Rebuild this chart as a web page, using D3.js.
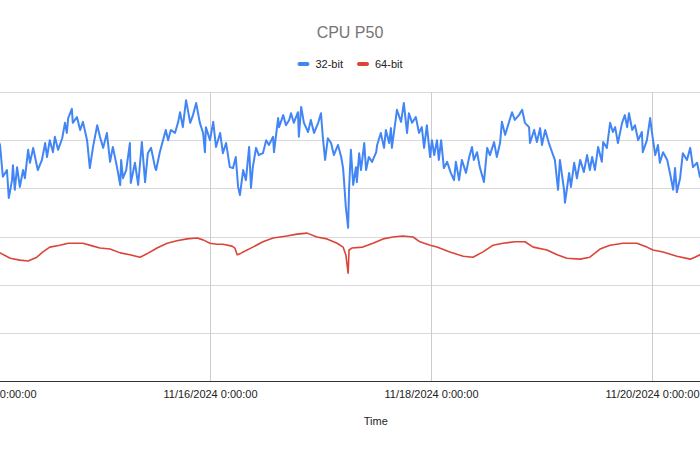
<!DOCTYPE html>
<html>
<head>
<meta charset="utf-8">
<script src="https://cdn.jsdelivr.net/npm/d3@7"></script>
<style>
  html, body { margin: 0; padding: 0; background: #fff; }
  svg { display: block; font-family: "Liberation Sans", Arial, sans-serif; }
</style>
</head>
<body>
<svg id="chart" width="700" height="450"></svg>
<script>
// ---------- DATA ----------
const chartTitle = "CPU P50";
const xAxisTitle = "Time";
const seriesNames = ["32-bit", "64-bit"];
const seriesColors = ["#4285F4", "#DB4437"];

// hours after 11/14/2024 0:00:00 (UTC)
const blueHours = [2.0,2.4,3.0,3.9,4.3,5.0,5.2,5.6,6.1,6.7,7.4,7.8,8.5,8.9,9.6,10.0,10.6,11.5,12.2,12.6,13.2,13.9,14.3,15.0,15.9,16.5,16.9,17.2,18.0,18.2,19.1,19.8,20.4,21.3,21.9,22.6,23.5,24.1,24.8,25.6,26.3,26.9,27.8,28.5,28.7,29.1,29.8,30.6,30.8,31.7,32.4,33.2,33.9,34.5,35.2,36.1,36.3,37.1,37.8,38.4,38.9,39.5,40.4,41.1,41.5,42.1,42.8,43.7,44.3,45.0,45.8,46.5,46.9,47.1,48.0,48.7,49.3,50.2,50.8,51.5,52.3,53.0,53.6,54.1,54.5,55.2,55.8,56.5,56.9,57.3,58.0,58.6,59.5,60.2,60.8,61.7,61.9,62.8,63.0,63.9,64.5,65.2,65.6,66.2,67.1,67.3,67.8,68.4,69.3,69.9,70.6,71.5,72.1,72.5,73.0,73.6,74.3,74.9,75.8,76.5,76.9,77.1,77.5,78.0,78.2,78.6,79.1,79.7,79.9,80.4,80.8,81.5,81.9,82.5,83.2,84.1,84.3,85.1,85.8,86.2,86.9,87.3,87.5,88.4,88.6,89.5,90.1,90.8,91.2,91.9,92.7,93.4,94.0,94.5,95.1,95.8,96.2,96.7,97.3,97.7,98.2,98.8,99.5,100.3,101.0,101.4,102.1,102.7,103.6,104.3,104.9,105.3,106.0,106.6,107.5,108.2,108.8,109.7,110.3,111.0,111.4,112.1,112.9,113.6,114.2,115.1,115.8,116.4,117.3,117.5,118.4,119.0,119.7,120.1,120.8,121.6,122.3,122.9,123.6,124.0,124.9,125.1,126.0,126.4,127.1,127.7,128.4,129.2,129.9,130.5,131.0,131.6,132.3,133.1,133.4,134.2,134.9,135.5,136.0,136.6,137.5,138.1,138.6,139.0,139.7,140.3,141.0,141.8,142.0,142.9,143.6,144.0,144.7,145.3,145.7,146.4,147.3,147.9,148.6,149.0,149.4,150.1,150.7,151.6,152.3,152.9,153.8,154.4,155.3];
const blueValues = [50.0,49.0,42.4,43.8,38.0,41.7,44.8,39.7,44.4,40.3,43.8,42.1,48.0,45.3,48.4,46.5,43.8,45.9,49.4,46.5,50.0,47.5,50.7,48.0,50.4,53.6,51.5,54.6,56.5,53.6,54.8,52.1,53.8,50.0,44.2,48.6,53.1,50.7,48.4,51.5,45.5,48.6,44.4,40.7,45.9,42.1,43.8,49.4,41.1,45.3,40.7,49.6,41.3,47.3,48.4,44.2,43.8,47.5,50.0,52.1,50.0,52.1,51.5,53.8,55.8,52.7,58.3,53.6,55.2,57.7,53.6,51.5,47.5,52.7,50.0,53.8,48.6,51.5,47.3,49.4,44.4,44.2,46.5,40.3,38.6,43.8,41.7,48.6,40.1,44.4,48.4,46.9,47.3,50.0,49.0,50.7,47.5,54.6,52.7,55.2,53.1,54.2,55.6,53.6,55.8,50.7,56.9,53.6,51.7,54.2,51.5,53.6,55.6,50.7,45.9,50.4,49.4,46.9,49.0,46.5,44.2,41.7,36.1,31.8,39.7,48.0,40.7,44.4,41.3,47.3,43.8,49.4,43.8,46.5,45.5,47.5,49.0,51.5,48.4,52.1,49.4,52.5,48.4,54.8,56.3,53.8,57.7,51.5,55.6,53.6,54.8,51.5,52.7,48.4,53.1,46.5,50.0,46.9,50.0,45.9,50.0,44.2,45.5,43.2,41.7,45.5,41.7,45.9,43.2,46.5,48.6,45.9,47.5,44.4,41.3,48.4,46.9,49.6,46.5,49.4,53.8,51.1,53.6,55.8,54.2,55.2,56.3,53.6,52.7,49.4,52.1,49.6,52.5,49.0,52.1,49.4,47.5,45.9,39.7,45.9,39.7,37.0,43.2,40.3,45.3,42.1,45.9,43.4,46.9,43.8,46.5,43.8,48.6,45.5,49.6,48.4,53.6,51.7,52.7,49.4,53.6,55.2,52.7,55.6,52.1,53.1,50.0,51.7,47.5,50.0,54.6,51.5,46.9,49.0,45.3,47.5,45.9,43.2,39.7,44.2,39.2,42.1,47.3,45.9,48.4,44.4,45.3,42.4,41.7];

const redHours = [2.0,2.4,4.6,6.7,8.5,10.4,11.7,13.2,15.4,17.2,19.1,20.4,22.6,24.1,26.3,28.5,30.6,32.8,34.3,36.5,38.7,40.8,43.0,45.2,46.5,48.0,49.5,50.8,52.8,53.4,53.9,54.5,55.2,57.3,59.5,61.7,64.7,66.9,69.1,71.2,73.4,75.6,76.9,77.5,78.0,78.2,78.8,81.2,83.4,85.6,87.7,89.9,92.1,93.6,95.8,97.3,100.1,103.0,105.1,107.3,109.5,111.6,114.2,116.4,118.2,121.2,123.4,125.5,128.4,130.5,132.7,134.9,137.7,140.7,142.9,144.2,146.4,149.4,152.3,153.3,154.4,155.5];
const redValues = [26.8,26.6,25.5,25.1,24.9,25.7,26.8,27.8,28.2,28.6,28.6,28.6,28.0,27.6,27.4,26.6,26.2,25.7,26.4,27.6,28.6,29.1,29.5,29.7,29.3,28.6,28.4,28.4,28.0,27.6,26.2,26.4,26.8,27.8,28.9,29.7,30.1,30.5,30.7,29.9,29.5,28.6,27.8,26.2,22.4,27.2,27.6,27.8,28.6,29.5,29.9,30.1,29.9,28.9,28.2,27.8,26.8,25.9,25.7,26.8,28.2,28.6,28.9,28.9,27.8,27.2,26.2,25.5,25.3,25.7,27.4,28.2,28.6,28.6,27.8,27.2,26.8,25.9,25.3,25.7,26.2,26.4];

const xTickDays = [14, 16, 18, 20];
const xTickLabels = ["11/14/2024 0:00:00", "11/16/2024 0:00:00", "11/18/2024 0:00:00", "11/20/2024 0:00:00"];
const yTicks = [0, 10, 20, 30, 40, 50, 60];

// ---------- HELPERS ----------
const base = Date.UTC(2024, 10, 14);
const toDate = h => new Date(base + h * 3600000);
const blueData = blueHours.map((h, i) => ({ t: toDate(h), v: blueValues[i] }));
const redData = redHours.map((h, i) => ({ t: toDate(h), v: redValues[i] }));
const tickDates = xTickDays.map(d => new Date(Date.UTC(2024, 10, d)));

// ---------- LAYOUT ----------
const svg = d3.select("#chart");
const plot = { left: -66.25, top: 92, width: 884, height: 289 };

const x = d3.scaleUtc()
  .domain([new Date(Date.UTC(2024, 10, 13, 12)), new Date(Date.UTC(2024, 10, 21, 12))])
  .range([0, plot.width]);
const y = d3.scaleLinear().domain([0, 60]).range([plot.height, 0]);

const g = svg.append("g").attr("transform", `translate(${plot.left},${plot.top})`);

svg.append("defs").append("clipPath").attr("id", "clip")
  .append("rect").attr("x", 0).attr("y", -5).attr("width", plot.width).attr("height", plot.height + 5);

// horizontal gridlines (value labels lie outside the visible crop, as in the reference)
g.append("g")
  .call(d3.axisLeft(y).tickValues(yTicks).tickSize(-plot.width).tickFormat(""))
  .call(a => a.select(".domain").remove())
  .call(a => a.selectAll("line").attr("stroke", "#d9d9d9").attr("shape-rendering", "crispEdges"));

// vertical gridlines + labels
g.append("g")
  .attr("transform", `translate(0,${plot.height})`)
  .call(d3.axisBottom(x).tickValues(tickDates).tickSize(-plot.height).tickPadding(9)
    .tickFormat((d, i) => xTickLabels[i]))
  .call(a => a.select(".domain").remove())
  .call(a => a.selectAll("line").attr("stroke", "#cccccc").attr("shape-rendering", "crispEdges"))
  .call(a => a.selectAll("text").attr("fill", "#222").attr("font-size", 11)
    .attr("font-family", "'Liberation Sans', Arial, sans-serif"));

// baseline
g.append("line")
  .attr("x1", 0).attr("x2", plot.width)
  .attr("y1", y(0)).attr("y2", y(0))
  .attr("stroke", "#333").attr("stroke-width", 1).attr("shape-rendering", "crispEdges");

const line = d3.line().x(d => x(d.t)).y(d => y(d.v));

const lines = g.append("g").attr("clip-path", "url(#clip)");
lines.append("path").datum(redData)
  .attr("d", line).attr("fill", "none")
  .attr("stroke", seriesColors[1]).attr("stroke-width", 1.6).attr("stroke-linejoin", "round");
lines.append("path").datum(blueData)
  .attr("d", line).attr("fill", "none")
  .attr("stroke", seriesColors[0]).attr("stroke-width", 2).attr("stroke-linejoin", "round");

// title
svg.append("text")
  .attr("x", 350).attr("y", 38)
  .attr("text-anchor", "middle")
  .attr("font-size", 16).attr("fill", "#757575")
  .text(chartTitle);

// x-axis title
svg.append("text")
  .attr("x", plot.left + plot.width / 2).attr("y", 425)
  .attr("text-anchor", "middle")
  .attr("font-size", 11).attr("fill", "#222")
  .text(xAxisTitle);

// legend
const legend = svg.append("g");
let cursor = 0;
seriesNames.forEach((name, i) => {
  const item = legend.append("g").attr("transform", `translate(${cursor},0)`);
  item.append("line")
    .attr("x1", 2).attr("x2", 10).attr("y1", 0).attr("y2", 0)
    .attr("stroke", seriesColors[i]).attr("stroke-width", 4).attr("stroke-linecap", "round");
  const t = item.append("text")
    .attr("x", 18).attr("y", 4)
    .attr("font-size", 11).attr("fill", "#222")
    .text(name);
  cursor += 18 + t.node().getComputedTextLength() + 14;
});
const legendWidth = cursor - 14;
legend.attr("transform", `translate(${350 - legendWidth / 2},64)`);
</script>
</body>
</html>
